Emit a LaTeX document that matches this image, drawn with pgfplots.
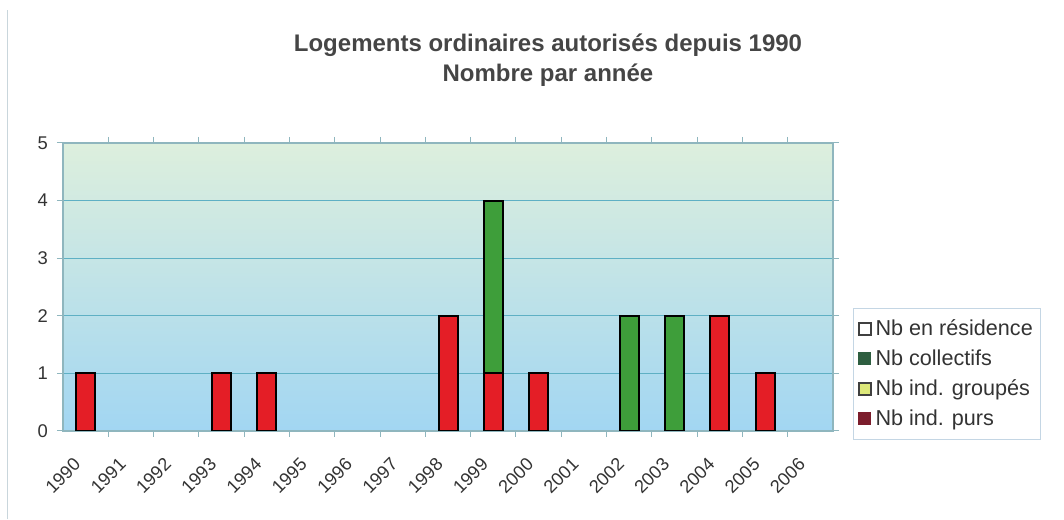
\documentclass[border=0pt]{standalone}
\usepackage{fontspec}
\setmainfont{Liberation Sans}
\usepackage{pgfplots}
\pgfplotsset{compat=1.18}
\definecolor{barred}{HTML}{E41E26}
\definecolor{bargreen}{HTML}{3E9E3A}
\definecolor{legred}{HTML}{7B1D2C}
\definecolor{leggreen}{HTML}{2E5E40}
\definecolor{legyellow}{HTML}{DDE87A}
\definecolor{bgtop}{HTML}{DDEFDD}
\definecolor{bgbot}{HTML}{A2D6F2}
\definecolor{gridcol}{HTML}{5EB0C4}
\definecolor{axcol}{HTML}{8FB6BE}
\definecolor{txtcol}{HTML}{333333}
\definecolor{titlecol}{HTML}{454545}
\definecolor{framecol}{HTML}{C9D6DC}
\definecolor{legborder}{HTML}{C4D6E4}
\begin{document}
\begin{tikzpicture}[x=1pt,y=1pt]
\path[use as bounding box] (0,0) rectangle (532,259.5);
\draw[framecol, line width=0.6pt] (3.8,0) -- (3.8,254.5);
\node[font=\bfseries\fontsize{12}{15}\selectfont, text=titlecol, align=center] at (274,229.5) {Logements ordinaires autorisés depuis 1990\\Nombre par année};
\begin{axis}[
  at={(31.5pt,44pt)}, anchor=south west,
  scale only axis, width=385pt, height=144pt,
  ybar stacked, bar width=9.5pt,
  xmin=-0.5, xmax=16.5, ymin=0, ymax=5,
  xtick={0,...,16},
  xticklabels={1990,1991,1992,1993,1994,1995,1996,1997,1998,1999,2000,2001,2002,2003,2004,2005,2006},
  minor xtick={0.5,1.5,...,15.5},
  major x tick style={draw=none},
  minor x tick style={draw=axcol, line width=0.5pt},
  minor tick length=3pt,
  tick align=outside,
  ytick={0,...,5},
  y tick style={draw=axcol, line width=0.5pt},
  major tick length=3pt,
  ymajorgrids, grid style={draw=gridcol, line width=0.5pt},
  axis line style={draw=axcol, line width=0.6pt},
  axis background/.style={top color=bgtop, bottom color=bgbot},
  /pgf/number format/assume math mode=true,
  tick label style={font=\fontsize{9.2}{11}\selectfont, text=txtcol},
  x tick label style={xshift=-6.5pt, yshift=-4.9pt, rotate=45, anchor=north east, font=\fontsize{9.1}{11}\selectfont},
  yticklabel style={xshift=-1pt},
  legend style={at={(1.026,0.427)}, anchor=north west, draw=legborder, line width=0.5pt,
    font=\fontsize{10.8}{12}\selectfont, text=txtcol, row sep=1.6pt, inner xsep=2pt, inner ysep=3.5pt},
  legend cell align=left,
  legend image code/.code={\draw[#1] (0pt,-3pt) rectangle (6pt,3pt);},
]
\addplot[fill=barred, draw=black, line width=1pt, forget plot] coordinates
  {(0,1) (3,1) (4,1) (8,2) (9,1) (10,1) (12,0) (13,0) (14,2) (15,1)};
\addplot[fill=bargreen, draw=black, line width=1pt, forget plot] coordinates
  {(0,0) (3,0) (4,0) (8,0) (9,3) (10,0) (12,2) (13,2) (14,0) (15,0)};
\addlegendimage{fill=white, draw=darkgray, line width=1pt}
\addlegendentry{Nb en résidence}
\addlegendimage{fill=leggreen, draw=leggreen, line width=0.5pt}
\addlegendentry{Nb collectifs}
\addlegendimage{fill=legyellow, draw=darkgray, line width=1pt}
\addlegendentry{Nb ind. groupés}
\addlegendimage{fill=legred, draw=legred, line width=0.5pt}
\addlegendentry{Nb ind. purs}
\end{axis}
\end{tikzpicture}
\end{document}
